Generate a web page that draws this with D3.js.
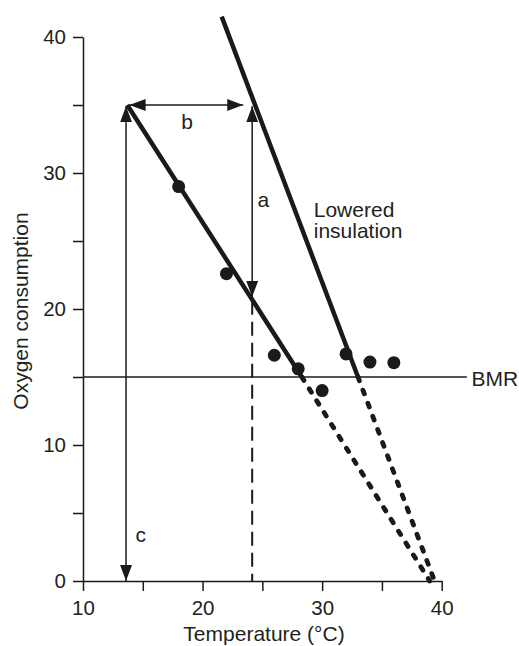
<!DOCTYPE html>
<html>
<head>
<meta charset="utf-8">
<script src="https://cdn.jsdelivr.net/npm/d3@7"></script>
<style>
  html, body { margin: 0; padding: 0; background: #fff; }
  svg { display: block; }
  text { font-family: "Liberation Sans", Arial, Helvetica, sans-serif; fill: #231f20; }
</style>
</head>
<body>
<svg id="chart" width="519" height="646"></svg>
<script>
// ---- data ----
const xTicks = [10, 15, 20, 25, 30, 35, 40];
const xTickLabels = [10, 20, 30, 40];
const yTicks = [0, 5, 10, 15, 20, 25, 30, 35, 40];
const yTickLabels = [0, 10, 20, 30, 40];

const temps  = [18, 22, 26, 28, 30, 32, 34, 36];
const oxygen = [29.0, 22.6, 16.6, 15.6, 14.0, 16.7, 16.1, 16.05];

const normalSolid   = [[13.7, 35], [28.3, 15]];
const normalDotted  = [[28.3, 15], [39.0, 0]];
const loweredSolid  = [[21.6, 41.5], [33.0, 15]];
const loweredDotted = [[33.0, 15], [39.4, 0]];

const bmrValue = 15;
const bmrExtent = [10, 42.1];

const arrowA = [[24.15, 34.9], [24.15, 20.9]];
const arrowB = [[13.9, 35], [23.4, 35]];
const arrowC = [[13.6, 34.9], [13.6, 0]];
const dashedLine = [[24.15, 20.6], [24.15, 0]];

const annotations = [
  { text: "a", x: 24.6, y: 27.5, anchor: "start" },
  { text: "b", x: 18.7, y: 33.2, anchor: "middle" },
  { text: "c", x: 14.4, y: 2.9, anchor: "start" },
  { text: "Lowered", x: 29.3, y: 26.8, anchor: "start" },
  { text: "insulation", x: 29.3, y: 25.25, anchor: "start" },
  { text: "BMR", x: 42.5, y: 14.35, anchor: "start" }
];

// ---- chart ----
const svg = d3.select("#chart");
const x = d3.scaleLinear().domain([10, 40]).range([83, 441.7]);
const y = d3.scaleLinear().domain([0, 40]).range([581, 37]);
const ink = "#1a1a1a";

const defs = svg.append("defs");
defs.append("marker")
  .attr("id", "head")
  .attr("viewBox", "0 0 16 12")
  .attr("markerUnits", "userSpaceOnUse")
  .attr("markerWidth", 16).attr("markerHeight", 12)
  .attr("refX", 16).attr("refY", 6)
  .attr("orient", "auto-start-reverse")
  .append("path").attr("d", "M0,0 L16,6 L0,12 Z").attr("fill", ink);

// axes
const xAxis = d3.axisBottom(x).tickValues(xTicks)
  .tickFormat(d => xTickLabels.includes(d) ? d : "")
  .tickSize(10).tickSizeOuter(0).tickPadding(9);
const yAxis = d3.axisLeft(y).tickValues(yTicks)
  .tickFormat(d => yTickLabels.includes(d) ? d : "")
  .tickSize(10).tickSizeOuter(0).tickPadding(7);

const gx = svg.append("g").attr("transform", `translate(0,${y(0)})`).call(xAxis);
const gy = svg.append("g").attr("transform", `translate(${x(10)},0)`).call(yAxis);
[gx, gy].forEach(g => {
  g.select(".domain").attr("stroke", ink).attr("stroke-width", 1.5);
  g.selectAll(".tick line").attr("stroke", ink).attr("stroke-width", 1.5);
  g.selectAll(".tick text").attr("font-size", 20.5).attr("fill", "#231f20")
    .attr("font-family", '"Liberation Sans", Arial, sans-serif');
});

// axis titles
svg.append("text").attr("x", 264).attr("y", 641).attr("text-anchor", "middle")
  .attr("font-size", 21).text("Temperature (°C)");
svg.append("text").attr("transform", "translate(28,311) rotate(-90)")
  .attr("text-anchor", "middle").attr("font-size", 21).text("Oxygen consumption");

const line = d3.line().x(d => x(d[0])).y(d => y(d[1]));

// BMR line
svg.append("path").datum([[bmrExtent[0], bmrValue], [bmrExtent[1], bmrValue]])
  .attr("d", line).attr("stroke", ink).attr("stroke-width", 1.5).attr("fill", "none");

// dashed vertical
svg.append("path").datum(dashedLine).attr("d", line)
  .attr("stroke", ink).attr("stroke-width", 2).attr("stroke-dasharray", "14,7").attr("fill", "none");

// arrows
[arrowA, arrowB, arrowC].forEach(a => {
  svg.append("path").datum(a).attr("d", line)
    .attr("stroke", ink).attr("stroke-width", 1.5).attr("fill", "none")
    .attr("marker-start", "url(#head)").attr("marker-end", "url(#head)");
});

// thick lines
[normalSolid, loweredSolid].forEach(s => {
  svg.append("path").datum(s).attr("d", line)
    .attr("stroke", ink).attr("stroke-width", 4.5).attr("fill", "none");
});
[normalDotted, loweredDotted].forEach(s => {
  svg.append("path").datum(s).attr("d", line)
    .attr("stroke", ink).attr("stroke-width", 4.8).attr("fill", "none")
    .attr("stroke-linecap", "round").attr("stroke-dasharray", "4,10");
});

// points
svg.append("g").selectAll("circle").data(temps).join("circle")
  .attr("cx", d => x(d)).attr("cy", (d, i) => y(oxygen[i]))
  .attr("r", 6.5).attr("fill", ink);

// annotations
svg.append("g").selectAll("text").data(annotations).join("text")
  .attr("x", d => x(d.x)).attr("y", d => y(d.y))
  .attr("text-anchor", d => d.anchor).attr("font-size", 21)
  .text(d => d.text);
</script>
</body>
</html>
